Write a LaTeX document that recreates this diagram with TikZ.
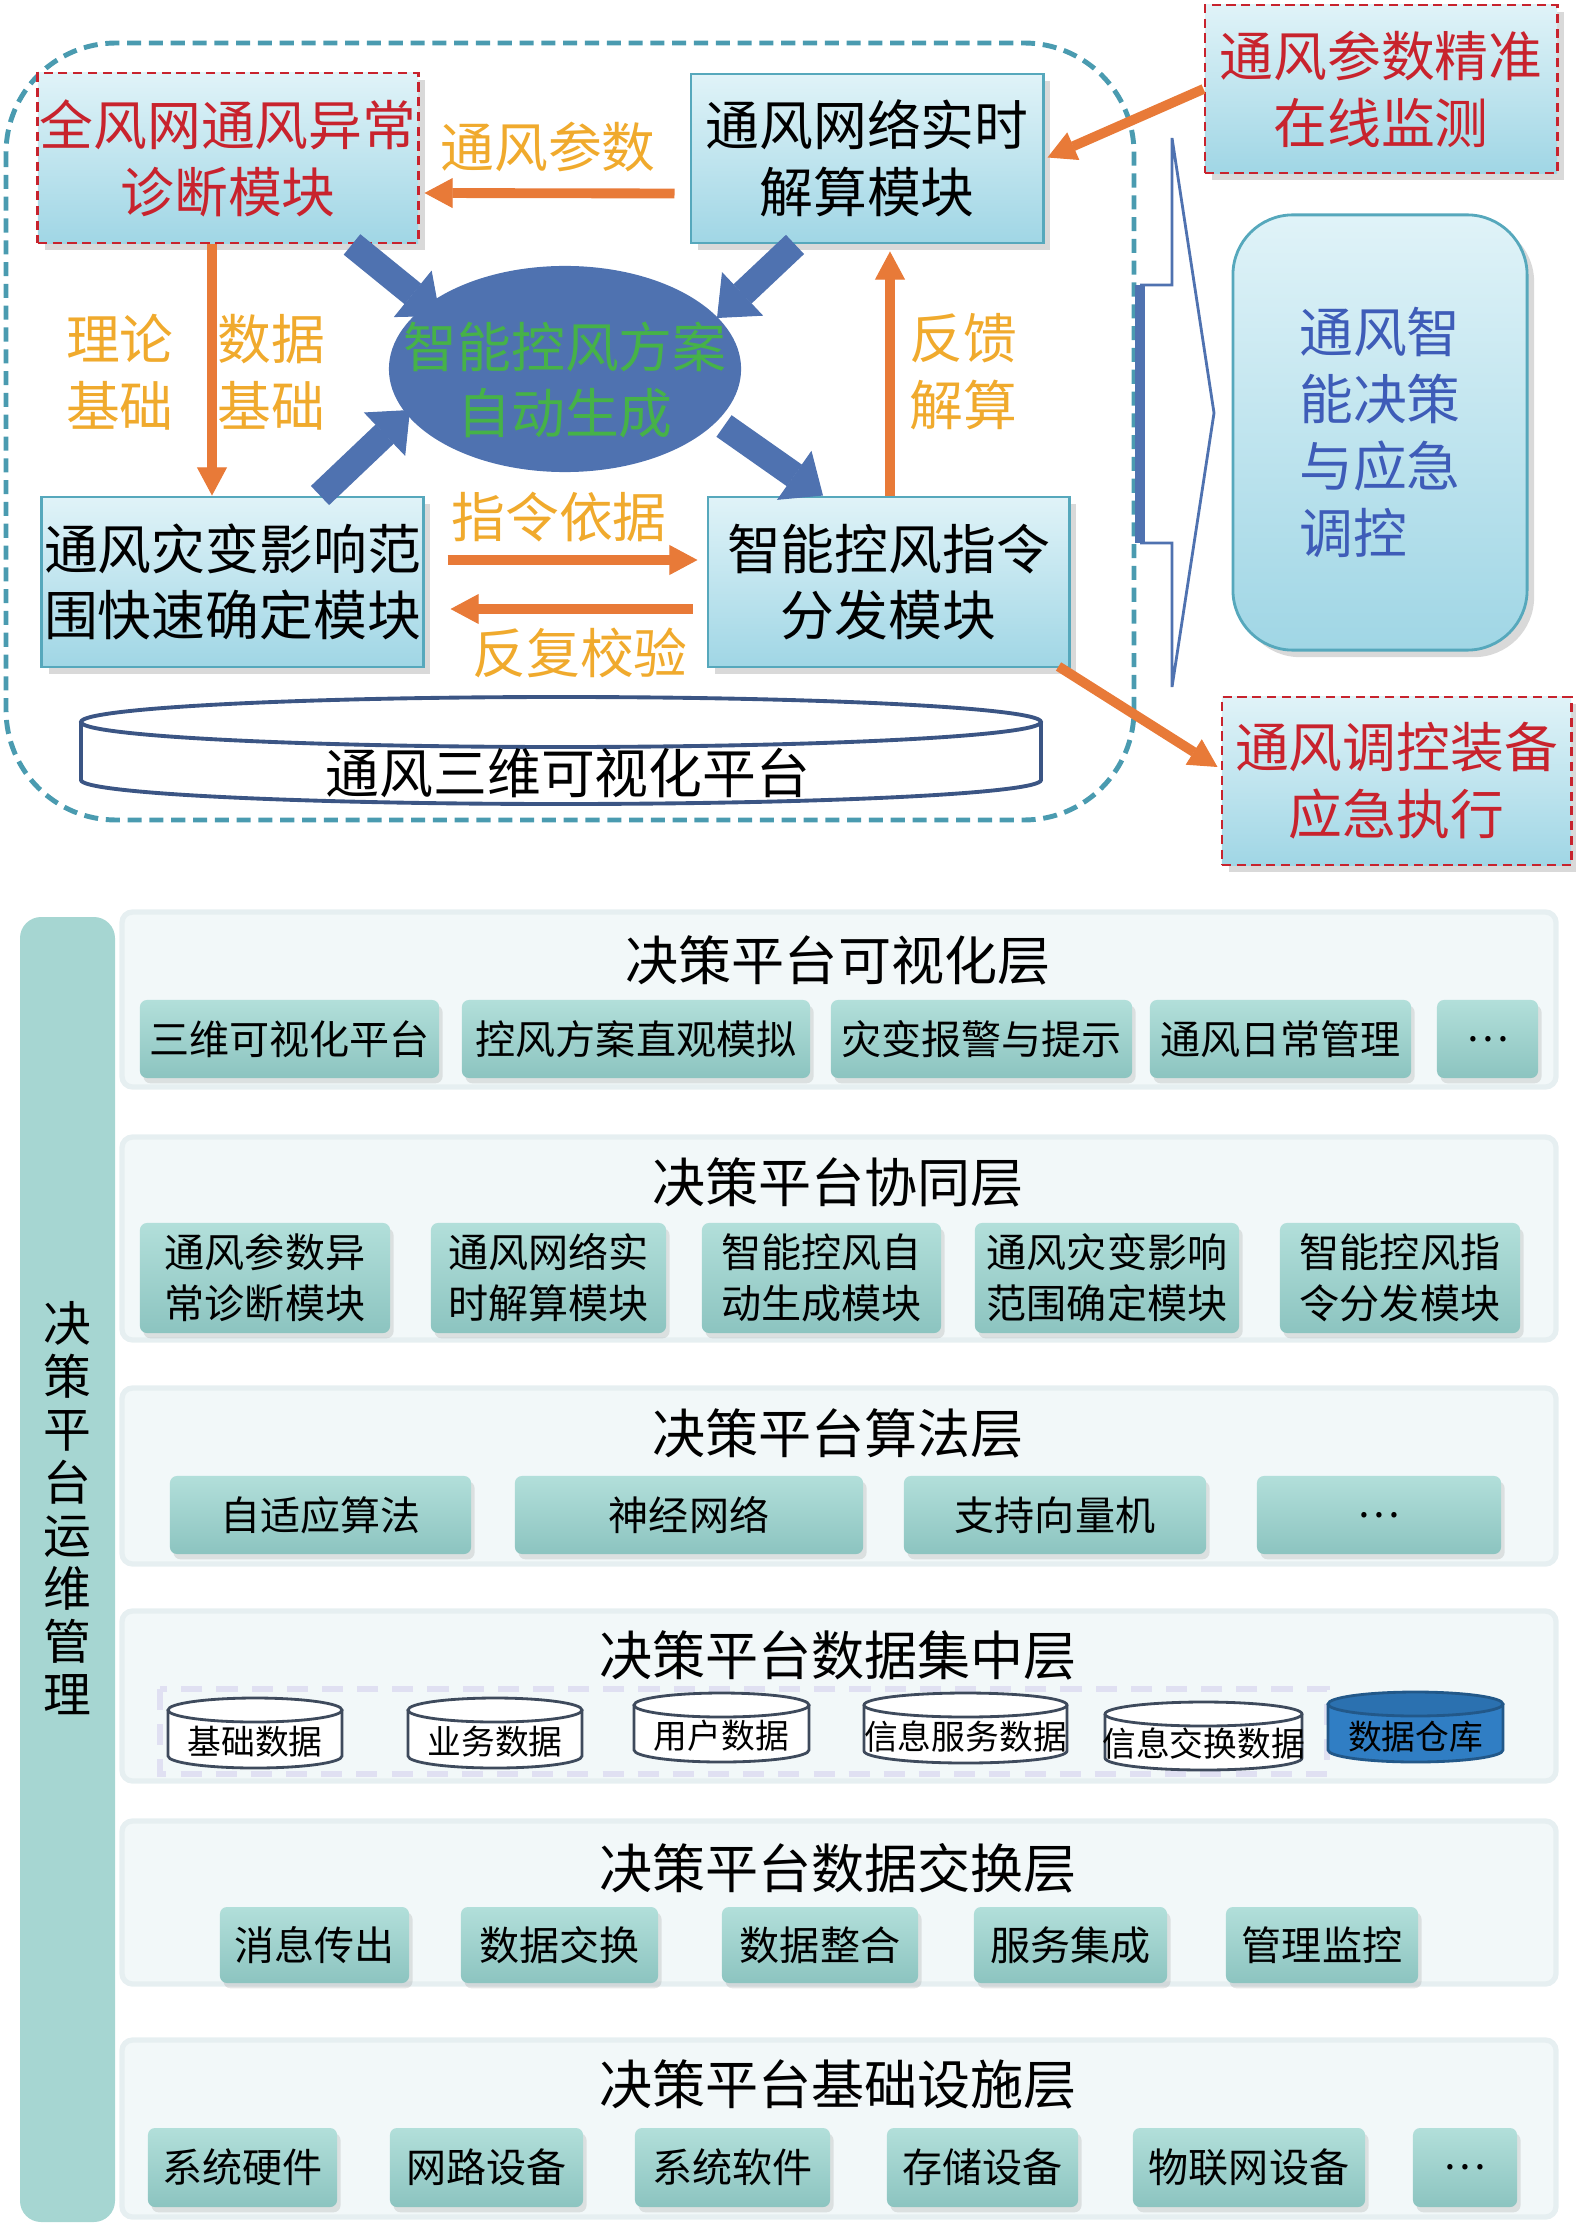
\documentclass[tikz,border=0pt]{standalone}
\usepackage{fontspec}
\setmainfont{Noto Sans CJK SC}
\usepackage{tikz}
\usetikzlibrary{
  arrows.meta,%
  % shifted anchors
  calc,%
  positioning,%
  % ellipse node
  shapes.geometric,%
  shadows
}
\definecolor{frameteal}{RGB}{74,155,176}
\definecolor{boxedge}{RGB}{86,168,188}
\definecolor{boxtop}{RGB}{224,243,248}
\definecolor{boxbot}{RGB}{160,214,229}
\definecolor{alertred}{RGB}{200,35,45}
\definecolor{arrorange}{RGB}{232,122,56}
\definecolor{labelgold}{RGB}{240,170,45}
\definecolor{blockblue}{RGB}{79,114,176}
\definecolor{plangreen}{RGB}{70,178,72}
\definecolor{decblue}{RGB}{62,92,184}
\definecolor{panelfill}{RGB}{242,248,249}
\definecolor{panelrim}{RGB}{230,239,241}
\definecolor{itemtop}{RGB}{178,223,218}
\definecolor{itembot}{RGB}{140,196,192}
\definecolor{barteal}{RGB}{166,214,210}
\definecolor{cyledge}{RGB}{62,74,92}
\definecolor{wareblue}{RGB}{48,126,196}
\definecolor{stripgray}{RGB}{224,224,242}

\newcommand\modfont{\fontsize{15.3}{19}\selectfont}
\newcommand\titlefont{\fontsize{15.1}{18}\selectfont}
\newcommand\itemfont{\fontsize{11.4}{14.5}\selectfont}
\newcommand\cylfont{\fontsize{9.6}{11}\selectfont}
\newcommand\barfont{\fontsize{13.6}{15.1}\selectfont}

\tikzset{>=Triangle}
\tikzset{
  modbox/.style={draw=boxedge, line width=0.8pt, top color=boxtop,
    bottom color=boxbot, inner sep=0pt, align=center, font=\modfont,
    drop shadow={shadow xshift=2pt, shadow yshift=-2pt, opacity=0.3}},
  alertbox/.style={modbox, draw=alertred, dash pattern=on 2.6pt off 1.6pt,
    text=alertred},
  flowlabel/.style={text=labelgold, font=\modfont, align=center, inner sep=0pt},
  orarrow/.style={draw=arrorange, line width=2.8pt,
    -{Triangle[length=8pt, width=8.5pt, line width=0.3pt]}},
  bluearrow/.style={draw=blockblue, line width=7.5pt,
    -{Triangle[length=10pt, width=17pt, line width=0.3pt]}},
  panel/.style={fill=panelfill, draw=panelrim, line width=1.5pt, rounded corners=3pt},
  layertitle/.style={font=\titlefont, inner sep=0pt},
  itembox/.style={top color=itemtop, bottom color=itembot, rounded corners=2pt,
    font=\itemfont, align=center, inner sep=0pt,
    drop shadow={shadow xshift=1pt, shadow yshift=-1.5pt, opacity=0.2}},
  cyl/.style={draw=cyledge, line width=0.8pt, fill=white},
  cyltext/.style={font=\cylfont, inner sep=0pt}
}

\begin{document}
\begin{tikzpicture}[x=0.01cm, y=-0.01cm]
  \useasboundingbox (0,0) rectangle (1575,2225);

  % upper diagram
  \draw[frameteal, line width=1.4pt, dash pattern=on 4pt off 2.2pt, rounded corners=1.1cm]
    (6,43) rectangle (1134,820);
  \draw[blockblue, line width=0.8pt, line join=miter]
    (1140,285) -- (1172,285) -- (1172,138) -- (1214,413) -- (1172,687)
    -- (1172,543) -- (1140,543);
  \draw[blockblue, line width=3pt] (1140,285) -- (1140,543);

  \node[alertbox, minimum width=3.8cm, minimum height=1.7cm] (diag) at (228,158)
    {全风网通风异常\\诊断模块};
  \node[modbox, minimum width=3.52cm, minimum height=1.69cm] (solve) at (867,158.5)
    {通风网络实时\\解算模块};
  \node[alertbox, minimum width=3.52cm, minimum height=1.68cm] (monitor) at (1381,89)
    {通风参数精准\\在线监测};
  \node[modbox, minimum width=3.81cm, minimum height=1.7cm] (range) at (232.5,582)
    {通风灾变影响范\\围快速确定模块};
  \node[modbox, minimum width=3.61cm, minimum height=1.7cm] (dispatch) at (888.5,582)
    {智能控风指令\\分发模块};
  \node[alertbox, minimum width=3.49cm, minimum height=1.68cm] (execute) at (1396.5,781)
    {通风调控装备\\应急执行};
  \node[modbox, rounded corners=0.6cm, minimum width=2.94cm, minimum height=4.35cm,
    text=decblue, align=left] (decide) at (1380,432.5)
    {通风智\\能决策\\与应急\\调控};

  \node[ellipse, fill=blockblue, minimum width=3.52cm, minimum height=2.06cm,
    inner sep=0pt] (plan) at (565,369) {};

  \draw[blockblue!75!black, line width=1.1pt, fill=white]
    (81,722) -- (81,780) arc[start angle=180, end angle=0, x radius=480, y radius=24]
    -- (1041,722);
  \draw[blockblue!75!black, line width=1.1pt, fill=white]
    (561,722) ellipse [x radius=480, y radius=25];
  \node[font=\modfont, inner sep=0pt] (platform) at (568,773) {通风三维可视化平台};

  \draw[orarrow] ($(solve.west)+(-15,35)$) -- ($(diag.east)+(5,35)$);
  \draw[orarrow] (monitor.west) -- ($(solve.east)+(3,-1)$);
  \draw[orarrow] ($(diag.south)+(-16,0)$) -- ($(range.north)+(-20.5,0)$);
  \draw[orarrow] ($(dispatch.north)+(1.5,0)$) -- ($(solve.south)+(23,7)$);
  \draw[orarrow] ($(range.east)+(23,-22)$) -- ($(dispatch.west)+(-9,-22)$);
  \draw[orarrow] ($(dispatch.west)+(-14,27)$) -- ($(range.east)+(26,27)$);
  \draw[orarrow] ($(dispatch.south east)+(-12,-2)$) -- ($(execute.west)+(-3,-14)$);

  \draw[bluearrow] ($(diag.south)+(124,0)$) -- ($(plan.center)+(-125,-53)$);
  \draw[bluearrow] ($(solve.south)+(-72,0)$) -- ($(plan.center)+(152,-51)$);
  \draw[bluearrow] ($(range.north)+(87.5,0)$) -- ($(plan.center)+(-155,41)$);
  \draw[bluearrow] ($(plan.center)+(159,57)$) -- ($(dispatch.north)+(-65.5,0)$);

  \node[text=plangreen, font=\modfont, align=center, inner sep=0pt] (plantext)
    at (565,380) {智能控风方案\\自动生成};

  \node[flowlabel] (lparam) at (548,147) {通风参数};
  \node[flowlabel] (ltheory) at (120,372) {理论\\基础};
  \node[flowlabel] (ldata) at (271,372) {数据\\基础};
  \node[flowlabel] (lfeedback) at (963,372) {反馈\\解算};
  \node[flowlabel] (lorder) at (559,517) {指令依据};
  \node[flowlabel] (lcheck) at (580,653) {反复校验};

  % lower diagram: platform layers
  \fill[barteal, rounded corners=6pt] (20,917) rectangle (115,2222);
  \node[font=\barfont, align=center, inner sep=0pt] (ops) at (67.5,1508)
    {决\\策\\平\\台\\运\\维\\管\\理};

  \foreach \yt/\yb/\yl/\ttl/\lname in {
      912/1087/960/决策平台可视化层/vislayer,
      1137/1340/1182/决策平台协同层/coplayer,
      1388/1564/1433/决策平台算法层/alglayer,
      1611/1781/1655/决策平台数据集中层/datlayer,
      1821/1984/1868/决策平台数据交换层/exlayer,
      2040/2217/2084/决策平台基础设施层/inflayer}{
    \path[panel] (122,\yt) rectangle (1556,\yb);
    \node[layertitle] (\lname) at (838,\yl) {\ttl};
  }

  \foreach \xc/\w/\txt [count=\i] in {289.5/2.99/三维可视化平台,
      636/3.48/控风方案直观模拟, 981.5/3.01/灾变报警与提示,
      1280.5/2.61/通风日常管理, 1487.5/1.01/…}
    \node[itembox, minimum width=\w cm, minimum height=0.78cm] (vis\i) at (\xc,1039) {\txt};

  \foreach \xc/\w/\txt [count=\i] in {265/2.50/{通风参数异\\常诊断模块},
      548.5/2.35/{通风网络实\\时解算模块}, 821.5/2.39/{智能控风自\\动生成模块},
      1107/2.64/{通风灾变影响\\范围确定模块}, 1400/2.40/{智能控风指\\令分发模块}}
    \node[itembox, minimum width=\w cm, minimum height=1.1cm] (cop\i) at (\xc,1278) {\txt};

  \foreach \xc/\w/\txt [count=\i] in {320.5/3.01/自适应算法, 689/3.48/神经网络,
      1055/3.02/支持向量机, 1379/2.44/…}
    \node[itembox, minimum width=\w cm, minimum height=0.78cm] (alg\i) at (\xc,1515) {\txt};

  \draw[stripgray, line width=1.5pt, dash pattern=on 6pt off 4pt]
    (160,1689) rectangle (1327,1774);
  \foreach \xc/\rx/\yt/\yb/\txt [count=\i] in {255/87/1698/1768/基础数据,
      495/87/1698/1768/业务数据, 721.5/87.5/1693/1762/用户数据,
      965.5/101.5/1693/1763/信息服务数据, 1203.5/98.5/1702/1770/信息交换数据}{
    \draw[cyl] (\xc-\rx,\yt+12) -- (\xc-\rx,\yb-12)
      arc[start angle=180, end angle=0, x radius=\rx, y radius=12] -- (\xc+\rx,\yt+12);
    \draw[cyl] (\xc,\yt+12) ellipse [x radius=\rx, y radius=12];
    \node[cyltext] (store\i) at (\xc,\yb-26) {\txt};
  }
  \draw[cyl, fill=wareblue, draw=wareblue!70!black] (1328,1704) -- (1328,1750)
    arc[start angle=180, end angle=0, x radius=87.5, y radius=12] -- (1503,1704);
  \draw[cyl, fill=wareblue!90!black, draw=wareblue!70!black]
    (1415.5,1704) ellipse [x radius=87.5, y radius=12];
  \node[cyltext] (warehouse) at (1415.5,1737) {数据仓库};

  \foreach \xc/\w/\txt [count=\i] in {314.5/1.89/消息传出, 559.5/1.97/数据交换,
      820/1.96/数据整合, 1070.5/1.93/服务集成, 1322/1.92/管理监控}
    \node[itembox, minimum width=\w cm, minimum height=0.76cm] (ex\i) at (\xc,1945) {\txt};

  \foreach \xc/\w/\txt [count=\i] in {242.5/1.89/系统硬件, 486.5/1.93/网路设备,
      732.5/1.95/系统软件, 982.5/1.91/存储设备, 1249/2.32/物联网设备, 1465/1.04/…}
    \node[itembox, minimum width=\w cm, minimum height=0.79cm] (inf\i) at (\xc,2167.5) {\txt};
\end{tikzpicture}
\end{document}
